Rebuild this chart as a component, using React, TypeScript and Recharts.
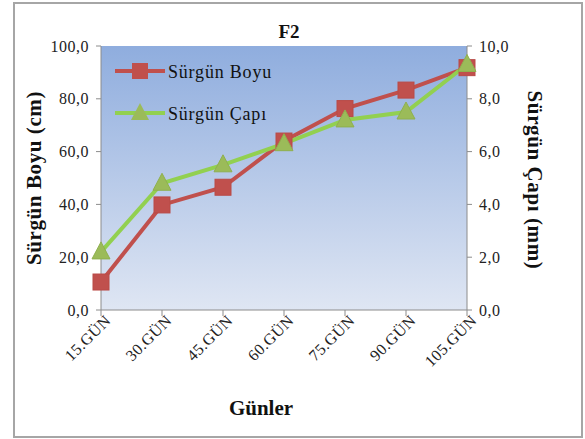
import { LineChart, Line, XAxis, YAxis, CartesianGrid } from 'recharts';

const days = ['15.GÜN', '30.GÜN', '45.GÜN', '60.GÜN', '75.GÜN', '90.GÜN', '105.GÜN'];
const boyu = [10.6, 39.8, 46.5, 64.0, 76.3, 83.3, 91.8];
const capi = [2.2, 4.8, 5.5, 6.3, 7.2, 7.5, 9.3];
const leftTicks = [0, 20, 40, 60, 80, 100];
const rightTicks = [0, 2, 4, 6, 8, 10];
const seriesNames = ['Sürgün Boyu', 'Sürgün Çapı'];

const chartData = days.map((d, i) => ({ day: d, boyu: boyu[i], capi: capi[i] }));

const serif = '"Liberation Serif", "DejaVu Serif", serif';
const fmt = (v: number) => v.toFixed(1).replace('.', ',');

const RED = '#c0504d';
const GREEN = '#92d050';
const OLIVE = '#9bbb59';

function SquareDot(props: any) {
  const { cx, cy } = props;
  if (cx == null || cy == null) return null;
  return <rect x={cx - 8} y={cy - 8} width={16} height={16} fill={RED} stroke="#b94a47" strokeWidth={1} />;
}

function TriangleDot(props: any) {
  const { cx, cy } = props;
  if (cx == null || cy == null) return null;
  return <polygon points={`${cx},${cy - 10} ${cx + 9},${cy + 7} ${cx - 9},${cy + 7}`} fill={OLIVE} stroke="#8fb04f" strokeWidth={1} />;
}

function XTick({ x, y, payload }: any) {
  return (
    <text x={x} y={y} dy={10} dx={5} textAnchor="end" transform={`rotate(-45 ${x} ${y})`} fontFamily={serif} fontSize={16} letterSpacing={0.4} fill="#222">
      {payload.value}
    </text>
  );
}

// legend drawn by hand inside the plot so it doesn't eat layout space
function LegendItems() {
  return (
    <g fontFamily={serif} fontSize={18} letterSpacing={0.8} fill="#111">
      <line x1={115} y1={71} x2={165} y2={71} stroke={RED} strokeWidth={4} />
      <rect x={132} y={63} width={16} height={16} fill={RED} />
      <text x={168} y={78}>{seriesNames[0]}</text>
      <line x1={115} y1={113} x2={165} y2={113} stroke={GREEN} strokeWidth={4} />
      <polygon points="140,103 149,120 131,120" fill={OLIVE} />
      <text x={168} y={120}>{seriesNames[1]}</text>
    </g>
  );
}

export default function App() {
  return (
    <div style={{ position: 'fixed', left: 0, top: 0, width: 585, height: 439, background: '#fff' }}>
      <LineChart width={585} height={439} data={chartData} margin={{ top: 46, right: 0, bottom: 0, left: 0 }}>
        <defs>
          <linearGradient id="plotGrad" x1="0" y1="0" x2="0" y2="1">
            <stop offset="0%" stopColor="#8fadde" />
            <stop offset="100%" stopColor="#dfe6f3" />
          </linearGradient>
        </defs>
        <rect x={14} y={3} width={568} height={434} fill="none" stroke="#a6a6a6" strokeWidth={2} />
        <CartesianGrid yAxisId="left" horizontal={false} vertical={false} fill="url(#plotGrad)" />
        <XAxis
          dataKey="day"
          scale="point"
          height={129}
          interval={0}
          tick={<XTick />}
          tickSize={6}
          stroke="#8c8c8c"
          tickLine={{ stroke: '#8c8c8c' }}
        />
        <YAxis
          yAxisId="left"
          width={101}
          domain={[0, 100]}
          ticks={leftTicks}
          tickFormatter={fmt}
          tickSize={5}
          tickMargin={7}
          stroke="#8c8c8c"
          tick={{ fontFamily: serif, fontSize: 16, fill: '#222', letterSpacing: 0.5 }}
        />
        <YAxis
          yAxisId="right"
          orientation="right"
          width={118}
          domain={[0, 10]}
          ticks={rightTicks}
          tickFormatter={fmt}
          tickSize={5}
          tickMargin={7}
          stroke="#8c8c8c"
          tick={{ fontFamily: serif, fontSize: 16, fill: '#222', textAnchor: 'start', letterSpacing: 0.5 }}
        />
        <LegendItems />
        <Line
          yAxisId="left"
          dataKey="boyu"
          name={seriesNames[0]}
          stroke={RED}
          strokeWidth={4}
          dot={<SquareDot />}
          activeDot={false}
          isAnimationActive={false}
        />
        <Line
          yAxisId="right"
          dataKey="capi"
          name={seriesNames[1]}
          stroke={GREEN}
          strokeWidth={4}
          dot={<TriangleDot />}
          activeDot={false}
          isAnimationActive={false}
        />
        <text x={289} y={38} textAnchor="middle" fontFamily={serif} fontWeight="bold" fontSize={19} fill="#111">F2</text>
        <text x={261} y={415} textAnchor="middle" fontFamily={serif} fontWeight="bold" fontSize={21} fill="#111">Günler</text>
        <text x={41} y={178} textAnchor="middle" transform="rotate(-90 41 178)" fontFamily={serif} fontWeight="bold" fontSize={21} letterSpacing={0.6} fill="#111">Sürgün Boyu (cm)</text>
        <text x={528} y={180} textAnchor="middle" transform="rotate(90 528 180)" fontFamily={serif} fontWeight="bold" fontSize={21} letterSpacing={0.6} fill="#111">Sürgün Çapı (mm)</text>
      </LineChart>
    </div>
  );
}
